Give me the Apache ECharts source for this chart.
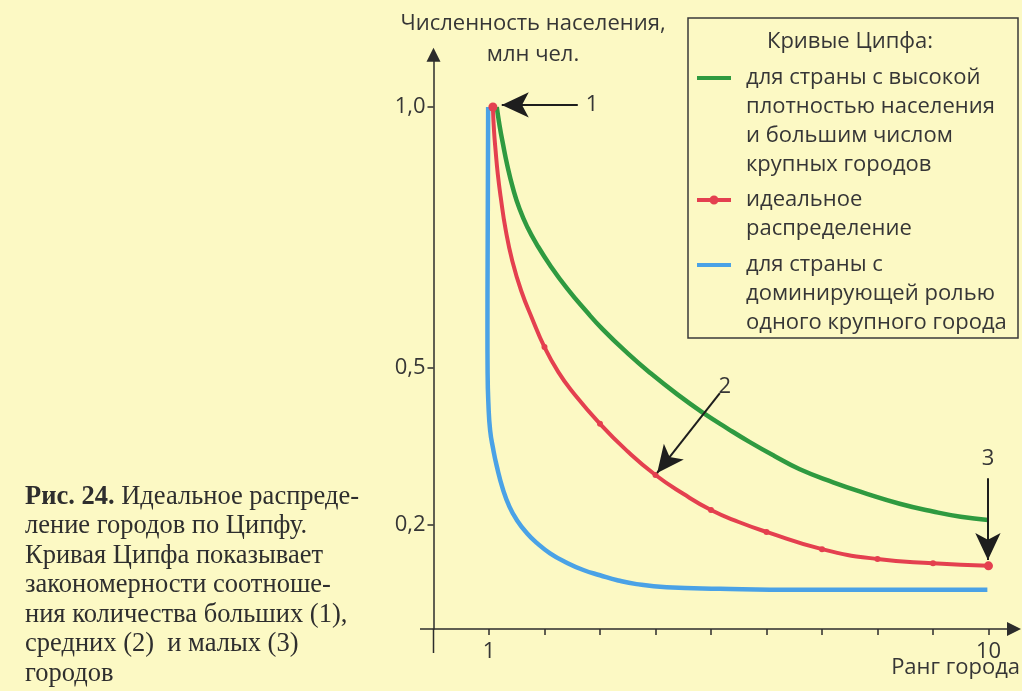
<!DOCTYPE html>
<html>
<head>
<meta charset="utf-8">
<script src="https://cdn.jsdelivr.net/npm/echarts@6/dist/echarts.min.js"></script>
<style>
html,body{margin:0;padding:0;background:#fcf9c4;}
#c{width:1022px;height:691px;}
</style>
</head>
<body>
<div id="c"></div>
<script>
// ---- data ----
const greenRank  = [1.14, 1.19, 1.25, 1.33, 1.43, 1.55, 1.70, 1.86, 2.10, 2.41, 2.75, 3.05, 3.50, 3.90, 4.40, 4.86, 5.30, 5.70, 6.15, 6.60, 7.20, 7.81, 8.40, 9.00, 9.50, 9.99];
const greenValue = [1.000, 0.965, 0.930, 0.888, 0.845, 0.805, 0.768, 0.737, 0.697, 0.652, 0.609, 0.574, 0.528, 0.491, 0.449, 0.414, 0.384, 0.358, 0.331, 0.306, 0.281, 0.259, 0.240, 0.225, 0.215, 0.209];

const redRank  = [1.07, 1.09, 1.12, 1.16, 1.21, 1.30, 1.42, 1.58, 1.78, 2, 2.25, 2.5, 3, 3.5, 4, 4.5, 5, 5.5, 6, 7, 8, 9, 10];
const redValue = [1.000, 0.955, 0.915, 0.870, 0.828, 0.765, 0.705, 0.648, 0.594, 0.540, 0.492, 0.455, 0.393, 0.340, 0.295, 0.259, 0.228, 0.205, 0.186, 0.153, 0.134, 0.126, 0.121];
const redMarkedRanks = [1.07, 2, 3, 4, 5, 6, 7, 8, 9, 10];

const blueRank  = [0.985, 0.980, 0.975, 0.972, 0.975, 0.990, 1.020, 1.075, 1.140, 1.250, 1.370, 1.500, 1.680, 1.860, 2.100, 2.400, 2.700, 3.000, 3.330, 3.660, 4.200, 5.160, 6.600, 8.300, 9.980];
const blueValue = [1.000, 0.850, 0.700, 0.580, 0.490, 0.430, 0.381, 0.345, 0.312, 0.268, 0.234, 0.209, 0.184, 0.165, 0.145, 0.127, 0.113, 0.103, 0.093, 0.086, 0.080, 0.077, 0.075, 0.075, 0.075];

const xTickValues  = [1, 2, 3, 4, 5, 6, 7, 8, 9, 10];
const xLabelValues = [1, 10];
const yTickValues  = [0.2, 0.5, 1.0];

const arrowLabels = ['1', '2', '3'];
const arrowFrom   = [[2.60, 1.004], [5.16, 0.452], [9.99, 0.289]];
const arrowTo     = [[1.23, 1.004], [4.03, 0.299], [9.99, 0.132]];

const legendTitle = 'Кривые Ципфа:';
const greenLines = ['для страны с высокой', 'плотностью населения', 'и большим числом', 'крупных городов'];
const redLines   = ['идеальное', 'распределение'];
const blueLines  = ['для страны с', 'доминирующей ролью', 'одного крупного города'];

const yAxisTitle = 'Численность населения,\nмлн чел.';
const xAxisTitle = 'Ранг города';
const captionBold = 'Рис. 24.';
const captionText = ' Идеальное распреде-\nление городов по Ципфу.\nКривая Ципфа показывает\nзакономерности соотноше-\nния количества больших (1),\nсредних (2)  и малых (3)\nгородов';

// ---- styling ----
const F = 'Open Sans';
const TXT = '#363636';
const AX = '#2c2c2c';
const GREEN = '#2f9a40', RED = '#e4404f', BLUE = '#4aa2e6';
const LH = 29;
const FS = 22;

function pairs(xs, ys) { return xs.map((x, i) => [x, ys[i]]); }
const nameG = greenLines.join(' '), nameR = redLines.join(' '), nameB = blueLines.join(' ');
const legendText = {}; legendText[nameG] = greenLines.join('\n'); legendText[nameR] = redLines.join('\n'); legendText[nameB] = blueLines.join('\n');

function iconPath(n, dot) {
  const H = n * LH, c = LH / 2;
  let p = 'path://M0,0M44,' + H + 'M0,' + (c - 2) + 'L34,' + (c - 2) + 'L34,' + (c + 2) + 'L0,' + (c + 2) + 'Z';
  if (dot) p += 'M12.5,' + c + 'A4.5,4.5 0 1,1 21.5,' + c + 'A4.5,4.5 0 1,1 12.5,' + c + 'Z';
  return p;
}
function legendFor(name, n, dot, firstLineY) {
  return {
    data: [{ name: name, icon: iconPath(n, dot) }],
    left: 697, top: firstLineY - LH / 2, padding: 0,
    itemWidth: 44, itemHeight: n * LH, selectedMode: false,
    itemStyle: { borderWidth: 0 },
    formatter: nm => legendText[nm],
    textStyle: { fontFamily: F, fontSize: FS, color: TXT, lineHeight: LH }
  };
}

const markData = arrowLabels.map((t, i) => [
  { coord: arrowFrom[i], symbol: 'none', label: { formatter: t } },
  { coord: arrowTo[i], symbol: 'arrow' }
]);

const chart = echarts.init(document.getElementById('c'), null, { renderer: 'canvas' });
chart.setOption({
  backgroundColor: '#fcf9c4',
  animation: false,
  grid: { left: 433.5, right: 8, top: 54.8, bottom: 62, containLabel: false },
  xAxis: {
    type: 'value', min: 0, max: 10.46,
    axisLine: { lineStyle: { color: AX, width: 1.5 }, symbol: ['none', 'triangle'], symbolSize: [14, 14] },
    axisTick: { show: true, length: 6, customValues: xTickValues, lineStyle: { color: AX, width: 1.5 } },
    axisLabel: { customValues: xLabelValues, margin: 12, fontFamily: F, fontSize: FS, color: TXT },
    splitLine: { show: false }
  },
  yAxis: {
    type: 'value', min: 0, max: 1.10,
    axisLine: { lineStyle: { color: AX, width: 1.5 }, symbol: ['none', 'triangle'], symbolSize: [14, 14] },
    axisTick: { show: true, length: 6, customValues: yTickValues, lineStyle: { color: AX, width: 1.5 } },
    axisLabel: { customValues: yTickValues, margin: 8, fontFamily: F, fontSize: FS, color: TXT,
      formatter: v => v.toFixed(1).replace('.', ',') },
    splitLine: { show: false }
  },
  legend: [
    legendFor(nameG, greenLines.length, false, 78),
    legendFor(nameR, redLines.length, true, 200),
    legendFor(nameB, blueLines.length, false, 265)
  ],
  series: [
    { name: nameG, type: 'line', data: pairs(greenRank, greenValue), smooth: 0.5, symbol: 'none',
      lineStyle: { color: GREEN, width: 4.5 }, itemStyle: { color: GREEN }, z: 3 },
    { name: nameB, type: 'line', data: pairs(blueRank, blueValue), smooth: 0.5, symbol: 'none',
      lineStyle: { color: BLUE, width: 4.5 }, itemStyle: { color: BLUE }, z: 2 },
    { name: nameR, type: 'line', smooth: 0.5, symbol: 'circle',
      data: redRank.map((x, i) => ({
        value: [x, redValue[i]],
        symbolSize: redMarkedRanks.indexOf(x) < 0 ? 0 : (i === 0 || i === redRank.length - 1 ? 9 : 6)
      })),
      lineStyle: { color: RED, width: 4 }, itemStyle: { color: RED }, z: 4,
      markLine: {
        silent: true, animation: false, symbolSize: [19, 27], precision: 3,
        lineStyle: { color: '#1e1e1e', width: 2, type: 'solid' },
        label: { show: true, position: 'start', distance: 8, fontFamily: F, fontSize: FS, color: TXT },
        data: markData
      }
    }
  ],
  graphic: [
    { type: 'line', shape: { x1: 433.5, y1: 629, x2: 433.5, y2: 653 }, style: { stroke: AX, lineWidth: 1.5 } },
    { type: 'line', shape: { x1: 420, y1: 629, x2: 433.5, y2: 629 }, style: { stroke: AX, lineWidth: 1.5 } },
    { type: 'rect', shape: { x: 688, y: 18, width: 330, height: 320 }, style: { fill: 'none', stroke: '#3a3a3a', lineWidth: 1.5 } },
    { type: 'text', x: 850, y: 42, style: { text: legendTitle, fontFamily: F, fontSize: FS, fill: TXT, align: 'center', verticalAlign: 'middle' } },
    { type: 'text', x: 533, y: 39.5, style: { text: yAxisTitle, fontFamily: F, fontSize: FS, lineHeight: 31, fill: TXT, align: 'center', verticalAlign: 'middle' } },
    { type: 'text', x: 1020, y: 668, style: { text: xAxisTitle, fontFamily: F, fontSize: FS, fill: TXT, align: 'right', verticalAlign: 'middle' } },
    { type: 'text', x: 25, y: 482, style: {
        text: '{b|' + captionBold + '}' + captionText,
        fontFamily: 'Liberation Serif', fontSize: 26.5, lineHeight: 29.5, fill: '#2e2e2e', align: 'left', verticalAlign: 'top',
        rich: { b: { fontFamily: 'Liberation Serif', fontSize: 26.5, fontWeight: 'bold', lineHeight: 29.5, fill: '#2e2e2e' } }
    } }
  ]
});
</script>
</body>
</html>
